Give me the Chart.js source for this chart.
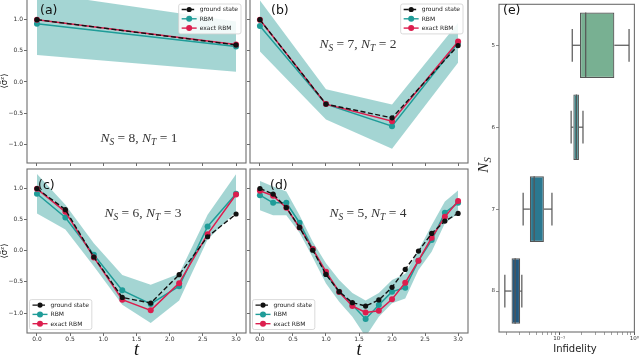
<!DOCTYPE html>
<html>
<head>
<meta charset="utf-8">
<script src="https://cdn.jsdelivr.net/npm/chart.js@4.4.0/dist/chart.umd.min.js"></script>
<style>
  html, body { margin: 0; padding: 0; background: #fff; width: 640px; height: 357px; overflow: hidden; position: relative; }
  canvas { position: absolute; }
</style>
</head>
<body>
<canvas id="cA" width="250" height="173" style="left:0px;top:-6px"></canvas>
<canvas id="cB" width="226" height="173" style="left:246px;top:-6px"></canvas>
<canvas id="cC" width="250" height="192" style="left:0px;top:165px"></canvas>
<canvas id="cD" width="226" height="192" style="left:246px;top:165px"></canvas>
<canvas id="cE" width="162" height="357" style="left:478px;top:0px"></canvas>
<script>
// ---- data ----
const tA = [0, 3];
const gsA = [1.0, 0.595];
const rbmA = [0.935, 0.57];
const exA = [1.0, 0.60];
const hiA = [1.435, 0.97];
const loA = [0.435, 0.166];

const tB = [0, 1, 2, 3];
const gsB = [1.0, -0.355, -0.575, 0.585];
const rbmB = [0.90, -0.355, -0.71, 0.63];
const exB = [1.0, -0.355, -0.63, 0.65];
const hiB = [1.31, -0.118, -0.36, 0.95];
const loB = [0.49, -0.60, -1.07, 0.31];

const tC = [0, 0.4286, 0.8571, 1.2857, 1.7143, 2.1429, 2.5714, 3.0];
const gsC = [1.0, 0.66, -0.10, -0.75, -0.84, -0.385, 0.225, 0.59];
const rbmC = [0.915, 0.535, -0.065, -0.636, -0.855, -0.57, 0.39, 0.915];
const exC = [0.995, 0.625, -0.107, -0.786, -0.957, -0.52, 0.267, 0.904];
const hiC = [1.235, 0.74, 0.12, -0.39, -0.545, -0.37, 0.578, 1.23];
const loC = [0.60, 0.34, -0.25, -0.866, -1.16, -0.80, 0.18, 0.63];

const tD = [0, 0.2, 0.4, 0.6, 0.8, 1.0, 1.2, 1.4, 1.6, 1.8, 2.0, 2.2, 2.4, 2.6, 2.8, 3.0];
const gsD = [1.0, 0.91, 0.695, 0.374, 0.01, -0.38, -0.658, -0.834, -0.888, -0.79, -0.588, -0.30, -0.005, 0.278, 0.476, 0.60];
const rbmD = [0.893, 0.77, 0.77, 0.45, 0.027, -0.374, -0.658, -0.872, -1.096, -0.872, -0.658, -0.594, -0.16, 0.171, 0.61, 0.77];
const exD = [0.963, 0.882, 0.69, 0.374, 0.027, -0.337, -0.663, -0.888, -0.99, -0.963, -0.78, -0.513, -0.16, 0.209, 0.545, 0.80];
const hiD = [1.12, 1.03, 0.95, 0.57, 0.144, -0.2, -0.47, -0.68, -0.80, -0.68, -0.47, -0.37, 0.01, 0.41, 0.79, 0.97];
const loD = [0.65, 0.57, 0.57, 0.29, -0.107, -0.524, -0.82, -1.06, -1.38, -1.06, -0.845, -0.765, -0.31, -0.016, 0.44, 0.60];

const seriesLabels = ['ground state', 'RBM', 'exact RBM'];
const xTicks = [0, 0.5, 1.0, 1.5, 2.0, 2.5, 3.0];
const yTicks = [-1.0, -0.5, 0.0, 0.5, 1.0];

// panel (e): infidelity box plots per N_S
const nsCats = ['5', '6', '7', '8'];
const wLo = [0.149, 0.144, 0.0331, 0.0189];
const q1 = [0.189, 0.154, 0.0407, 0.0232];
const med = [0.225, 0.169, 0.0464, 0.0259];
const q3 = [0.541, 0.183, 0.0625, 0.0302];
const wHi = [0.849, 0.207, 0.080, 0.0318];
const logTicks = [0.02, 0.03, 0.04, 0.05, 0.06, 0.07, 0.08, 0.09, 0.1, 0.2, 0.3, 0.4, 0.5, 0.6, 0.7, 0.8, 0.9, 1];

const teal = '#1f9c98';
const red = '#dc1e4e';
const band = 'rgba(64,168,164,0.48)';
const boxColors = ['#78b092', '#3f8e91', '#2b7890', '#245a80'];

const mk = (t, ys) => t.map((v, i) => ({ x: v, y: ys[i] }));
const fmt = v => (v < 0 ? '\u2212' : '') + Math.abs(v).toFixed(1);

// mixed italic / subscript text, centred on cx, baseline cy
const mathText = (ctx, parts, cx, cy, size) => {
  const fontFor = p => p[1] === 's' ? `italic ${size * 0.7}px "Liberation Serif"`
    : p[1] === 'i' ? `italic ${size}px "Liberation Serif"` : `${size}px "Liberation Serif"`;
  let w = 0;
  parts.forEach(p => { ctx.font = fontFor(p); w += ctx.measureText(p[0]).width; });
  let x = cx - w / 2;
  ctx.textAlign = 'left';
  ctx.textBaseline = 'alphabetic';
  parts.forEach(p => {
    ctx.font = fontFor(p);
    ctx.fillText(p[0], x, cy + (p[1] === 's' ? size * 0.22 : 0));
    x += ctx.measureText(p[0]).width;
  });
};

const framePlugin = {
  id: 'frame',
  afterDraw(chart) {
    const { ctx, chartArea: a } = chart;
    ctx.save();
    ctx.strokeStyle = '#6e6e6e';
    ctx.lineWidth = 1.1;
    ctx.strokeRect(a.left, a.top, a.right - a.left, a.bottom - a.top);
    ctx.restore();
  }
};

const legendPlugin = {
  id: 'innerLegend',
  afterDraw(chart, args, opts) {
    const { ctx, chartArea: a } = chart;
    const items = chart.data.datasets.slice(0, 3);
    ctx.save();
    ctx.font = '6px "DejaVu Sans"';
    const tw = Math.max(...items.map(d => ctx.measureText(d.label).width));
    const rowH = 9.3;
    const w = 3 + 15 + 3 + tw + 3;
    const h = rowH * 3 + 2;
    let x0, y0;
    if (opts.corner === 'tr') { x0 = a.right - 5 - w; y0 = a.top + 5; }
    else { x0 = a.left + 2.5; y0 = a.bottom - 3.5 - h; }
    ctx.fillStyle = 'rgba(255,255,255,0.85)';
    ctx.strokeStyle = '#d0d0d0';
    ctx.lineWidth = 0.8;
    ctx.beginPath();
    ctx.roundRect(x0, y0, w, h, 2);
    ctx.fill();
    ctx.stroke();
    items.forEach((d, i) => {
      const y = y0 + 5.5 + i * rowH;
      ctx.strokeStyle = d.borderColor;
      ctx.lineWidth = 1.4;
      ctx.setLineDash(d.borderDash || []);
      ctx.beginPath();
      ctx.moveTo(x0 + 3, y);
      ctx.lineTo(x0 + 18, y);
      ctx.stroke();
      ctx.setLineDash([]);
      ctx.fillStyle = d.backgroundColor;
      ctx.beginPath();
      ctx.arc(x0 + 10.5, y, d.pointRadius, 0, Math.PI * 2);
      ctx.fill();
      ctx.fillStyle = '#222';
      ctx.textAlign = 'left';
      ctx.textBaseline = 'middle';
      ctx.fillText(d.label, x0 + 21, y + 0.3);
    });
    ctx.restore();
  }
};

const decoPlugin = {
  id: 'deco',
  afterDraw(chart, args, o) {
    const ctx = chart.ctx;
    ctx.save();
    ctx.fillStyle = '#111';
    ctx.font = '12.5px "DejaVu Sans"';
    ctx.textAlign = 'left';
    ctx.textBaseline = 'middle';
    ctx.fillText(o.tag, o.tagX - o.ox, o.tagY - o.oy);
    ctx.fillStyle = '#333';
    mathText(ctx, [['N', 'i'], ['S', 's'], [' = ' + o.ns + ', ', 'r'], ['N', 'i'], ['T', 's'], [' = ' + o.nt, 'r']],
      o.mx - o.ox, o.my - o.oy, 13.5);
    ctx.restore();
  }
};

const makePanel = (id, t, gs, rbm, ex, hi, lo, p) => {
  const tickFont = { family: 'DejaVu Sans', size: 6, lineHeight: 1 };
  return new Chart(document.getElementById(id).getContext('2d'), {
    type: 'line',
    data: {
      datasets: [
        { label: seriesLabels[0], data: mk(t, gs), borderColor: '#111', backgroundColor: '#111', borderDash: [5, 2.5],
          borderWidth: 1.4, pointRadius: 2.6, pointBorderWidth: 0, pointBorderColor: '#111', order: 0 },
        { label: seriesLabels[1], data: mk(t, rbm), borderColor: teal, backgroundColor: teal,
          borderWidth: 1.5, pointRadius: 3, pointBorderWidth: 0, pointBorderColor: teal, order: 2 },
        { label: seriesLabels[2], data: mk(t, ex), borderColor: red, backgroundColor: red,
          borderWidth: 1.5, pointRadius: 3, pointBorderWidth: 0, pointBorderColor: red, order: 1 },
        { label: 'upper', data: mk(t, hi), borderColor: 'rgba(0,0,0,0)', borderWidth: 0, pointRadius: 0, fill: false, order: 4 },
        { label: 'lower', data: mk(t, lo), borderColor: 'rgba(0,0,0,0)', borderWidth: 0, pointRadius: 0,
          fill: '-1', backgroundColor: band, order: 3 },
      ]
    },
    options: {
      responsive: false,
      animation: false,
      devicePixelRatio: 1,
      layout: { padding: p.pad },
      plugins: {
        legend: { display: false },
        tooltip: { enabled: false },
        innerLegend: { corner: p.corner },
        deco: p.deco,
      },
      scales: {
        x: {
          type: 'linear', min: -0.15, max: 3.15,
          afterBuildTicks: s => { s.ticks = xTicks.map(v => ({ value: v })); },
          afterFit: s => { s.height = p.xh; },
          ticks: { display: p.xLabels, font: tickFont, color: '#333', padding: 0, maxRotation: 0, autoSkip: false,
            callback: v => v.toFixed(1) },
          grid: { drawOnChartArea: false, drawTicks: true, tickLength: 3, tickColor: '#444', tickWidth: 0.8 },
          border: { display: false },
          title: { display: p.xLabels, text: 't', color: '#111', padding: 0,
            font: { family: 'Liberation Serif', style: 'italic', size: 18, lineHeight: 0.75 } },
        },
        y: {
          type: 'linear', min: p.ymin, max: p.ymax,
          afterBuildTicks: s => { s.ticks = yTicks.map(v => ({ value: v })); },
          afterFit: s => { s.width = p.yw; },
          ticks: { display: p.yLabels, font: tickFont, color: '#333', padding: 1, callback: v => fmt(v) },
          grid: { drawOnChartArea: false, drawTicks: true, tickLength: 3, tickColor: '#444', tickWidth: 0.8 },
          border: { display: false },
          title: { display: p.yLabels, text: '\u27E8\u03C3\u0302\u1DBB\u27E9', color: '#222', padding: 0,
            font: { family: 'DejaVu Sans', size: 8.5, lineHeight: 1.2 } },
        }
      }
    },
    plugins: [framePlugin, legendPlugin, decoPlugin]
  });
};

const setup = () => {
  makePanel('cA', tA, gsA, rbmA, exA, hiA, loA, {
    pad: { top: 5, right: 4, left: 0, bottom: 0 }, xh: 4, yw: 27, ymin: -1.30, ymax: 1.332,
    xLabels: false, yLabels: true, corner: 'tr',
    deco: { ox: 0, oy: -6, tag: '(a)', tagX: 40, tagY: 11, ns: '8', nt: '1', mx: 139, my: 142 }
  });
  makePanel('cB', tB, gsB, rbmB, exB, hiB, loB, {
    pad: { top: 5, right: 4, left: 0, bottom: 0 }, xh: 4, yw: 4, ymin: -1.30, ymax: 1.332,
    xLabels: false, yLabels: false, corner: 'tr',
    deco: { ox: 246, oy: -6, tag: '(b)', tagX: 271, tagY: 11, ns: '7', nt: '2', mx: 358, my: 48 }
  });
  makePanel('cC', tC, gsC, rbmC, exC, hiC, loC, {
    pad: { top: 4, right: 4, left: 0, bottom: 0 }, xh: 24, yw: 27, ymin: -1.321, ymax: 1.313,
    xLabels: true, yLabels: true, corner: 'bl',
    deco: { ox: 0, oy: 165, tag: '(c)', tagX: 38, tagY: 185.5, ns: '6', nt: '3', mx: 143, my: 217 }
  });
  makePanel('cD', tD, gsD, rbmD, exD, hiD, loD, {
    pad: { top: 4, right: 4, left: 0, bottom: 0 }, xh: 24, yw: 4, ymin: -1.321, ymax: 1.313,
    xLabels: true, yLabels: false, corner: 'bl',
    deco: { ox: 246, oy: 165, tag: '(d)', tagX: 270, tagY: 185.5, ns: '5', nt: '4', mx: 368, my: 217 }
  });

  const boxPlugin = {
    id: 'whiskers',
    afterDatasetsDraw(chart) {
      const { ctx, scales: { x, y } } = chart;
      const step = y.getPixelForValue(1) - y.getPixelForValue(0);
      ctx.save();
      ctx.strokeStyle = '#555';
      ctx.lineWidth = 1.2;
      nsCats.forEach((c, i) => {
        const yc = y.getPixelForValue(i);
        const bh = step * 0.4, ch = step * 0.2;
        const xm = x.getPixelForValue(med[i]);
        const segs = [
          [xm, yc - bh, xm, yc + bh],
          [x.getPixelForValue(q1[i]), yc, x.getPixelForValue(wLo[i]), yc],
          [x.getPixelForValue(q3[i]), yc, x.getPixelForValue(wHi[i]), yc],
          [x.getPixelForValue(wLo[i]), yc - ch, x.getPixelForValue(wLo[i]), yc + ch],
          [x.getPixelForValue(wHi[i]), yc - ch, x.getPixelForValue(wHi[i]), yc + ch],
        ];
        segs.forEach(s => { ctx.beginPath(); ctx.moveTo(s[0], s[1]); ctx.lineTo(s[2], s[3]); ctx.stroke(); });
      });
      ctx.restore();
    },
    afterDraw(chart) {
      const ctx = chart.ctx;
      ctx.save();
      ctx.fillStyle = '#111';
      ctx.font = '12.5px "DejaVu Sans"';
      ctx.textAlign = 'left';
      ctx.textBaseline = 'middle';
      ctx.fillText('(e)', 503 - 478, 11);
      ctx.fillStyle = '#222';
      ctx.font = '10px "DejaVu Sans"';
      ctx.textAlign = 'center';
      ctx.fillText('Infidelity', 575 - 478, 349);
      ctx.translate(488 - 478, 165);
      ctx.rotate(-Math.PI / 2);
      ctx.fillStyle = '#222';
      mathText(ctx, [['N', 'i'], ['S', 's']], 0, 0, 15);
      ctx.restore();
    }
  };

  new Chart(document.getElementById('cE').getContext('2d'), {
    type: 'bar',
    data: {
      labels: nsCats,
      datasets: [{
        data: q1.map((v, i) => [v, q3[i]]),
        backgroundColor: boxColors,
        borderColor: '#555',
        borderWidth: 1.2,
        borderSkipped: false,
        barPercentage: 0.8,
        categoryPercentage: 1,
      }]
    },
    options: {
      indexAxis: 'y',
      responsive: false,
      animation: false,
      devicePixelRatio: 1,
      layout: { padding: { top: 1, right: 5, left: 0, bottom: 0 } },
      plugins: { legend: { display: false }, tooltip: { enabled: false } },
      scales: {
        x: {
          type: 'logarithmic', min: 0.0158, max: 1,
          afterBuildTicks: s => { s.ticks = logTicks.map(v => ({ value: v })); },
          afterFit: s => { s.height = 25; },
          ticks: { font: { family: 'DejaVu Sans', size: 5.5, lineHeight: 1 }, color: '#333', padding: 1,
            maxRotation: 0, autoSkip: false,
            callback: v => v === 0.1 ? '10\u207B\u00B9' : (v === 1 ? '10\u2070' : '') },
          grid: { drawOnChartArea: false, tickLength: 3, tickColor: '#444',
            tickWidth: c => (c.tick && (c.tick.value === 0.1 || c.tick.value === 1)) ? 0.9 : 0.5 },
          border: { display: false },
        },
        y: {
          type: 'category',
          afterFit: s => { s.width = 21; },
          ticks: { font: { family: 'DejaVu Sans', size: 5.5 }, color: '#333', padding: 1 },
          grid: { offset: false, drawOnChartArea: false, tickLength: 3, tickColor: '#444', tickWidth: 0.6 },
          border: { display: false },
        }
      }
    },
    plugins: [framePlugin, boxPlugin]
  });
};

setup();
</script>
</body>
</html>
